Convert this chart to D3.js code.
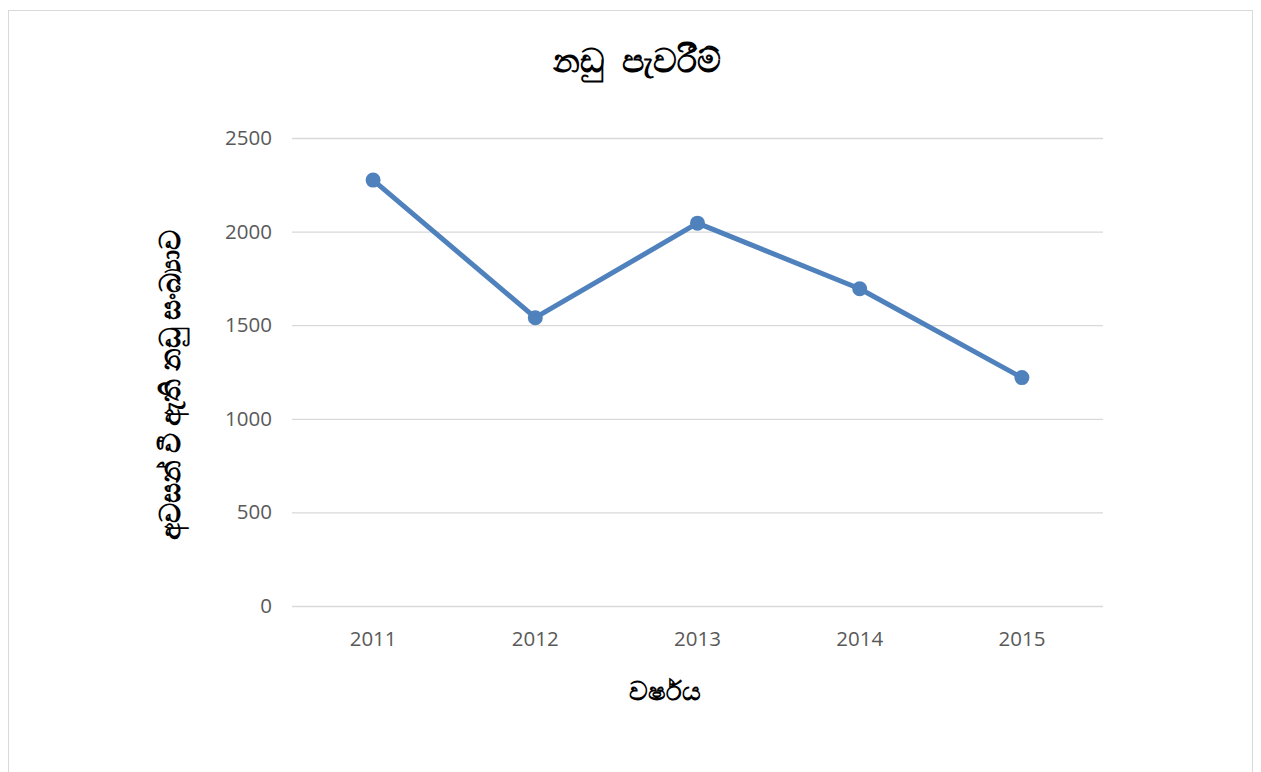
<!DOCTYPE html>
<html>
<head>
<meta charset="utf-8">
<script src="https://cdn.jsdelivr.net/npm/d3@7"></script>
<style>
  body { margin: 0; background: #fff; }
  svg text { font-family: "Open Sans", "Noto Sans", sans-serif; }
</style>
</head>
<body>
<div id="chart"></div>
<script>
// chart data
const years = ["2011", "2012", "2013", "2014", "2015"];
const cases = [2275, 1540, 2045, 1695, 1220];
const yTicks = [0, 500, 1000, 1500, 2000, 2500];

const titleText = "නඩු  පැවරීම්";
const xLabel = "වර්ෂය";
const yLabel = "අවසන් වී ඇති නඩු සංඛ්‍යාව";

const W = 1261, H = 772;
const margin = { top: 138, right: 158, bottom: 166, left: 292 };
const width = W - margin.left - margin.right;
const height = H - margin.top - margin.bottom;

const svg = d3.select("#chart").append("svg")
    .attr("width", W)
    .attr("height", H);

// outer frame
svg.append("rect")
    .attr("x", 8.5).attr("y", 10.5)
    .attr("width", 1244).attr("height", 780)
    .attr("fill", "none")
    .attr("stroke", "#d9d9d9")
    .attr("stroke-width", 1);

const g = svg.append("g")
    .attr("transform", `translate(${margin.left},${margin.top})`);

const x = d3.scaleBand().domain(years).range([0, width]);
const y = d3.scaleLinear().domain([0, 2500]).range([height, 0]);

// gridlines
g.append("g")
    .attr("class", "grid")
    .call(d3.axisLeft(y).tickValues(yTicks).tickSize(-width).tickFormat(""))
    .call(s => s.select(".domain").remove())
    .selectAll("line")
    .attr("stroke", "#d9d9d9")
    .attr("stroke-width", 1.3);

// y tick labels
g.append("g")
    .call(d3.axisLeft(y).tickValues(yTicks).tickSize(0).tickPadding(20).tickFormat(d3.format("d")))
    .call(s => s.select(".domain").remove())
    .selectAll("text")
    .attr("fill", "#595959")
    .style("font-size", "20.5px");

// x axis
g.append("g")
    .attr("transform", `translate(0,${height})`)
    .call(d3.axisBottom(x).tickSize(0).tickPadding(25))
    .call(s => s.select(".domain").remove())
    .selectAll("text")
    .attr("fill", "#595959")
    .style("font-size", "20.5px");

const pts = years.map((yr, i) => ({ yr, v: cases[i] }));

const line = d3.line()
    .x(d => x(d.yr) + x.bandwidth() / 2)
    .y(d => y(d.v));

g.append("path")
    .datum(pts)
    .attr("fill", "none")
    .attr("stroke", "#4f81bd")
    .attr("stroke-width", 5)
    .attr("stroke-linejoin", "round")
    .attr("d", line);

g.selectAll(".dot")
    .data(pts)
    .enter()
    .append("circle")
    .attr("class", "dot")
    .attr("cx", d => x(d.yr) + x.bandwidth() / 2)
    .attr("cy", d => y(d.v))
    .attr("r", 7.5)
    .attr("fill", "#4f81bd");

// title
svg.append("text")
    .attr("x", 637)
    .attr("y", 72)
    .attr("text-anchor", "middle")
    .style("white-space", "pre")
    .style("font-size", "33px")
    .style("font-weight", "bold")
    .text(titleText);

// x axis label
svg.append("text")
    .attr("x", 665)
    .attr("y", 700)
    .attr("text-anchor", "middle")
    .style("font-size", "26px")
    .style("font-weight", "bold")
    .text(xLabel);

// y axis label
svg.append("text")
    .attr("transform", "translate(180,385) rotate(-90)")
    .attr("text-anchor", "middle")
    .style("font-size", "28px")
    .style("font-weight", "bold")
    .text(yLabel);
</script>
</body>
</html>
